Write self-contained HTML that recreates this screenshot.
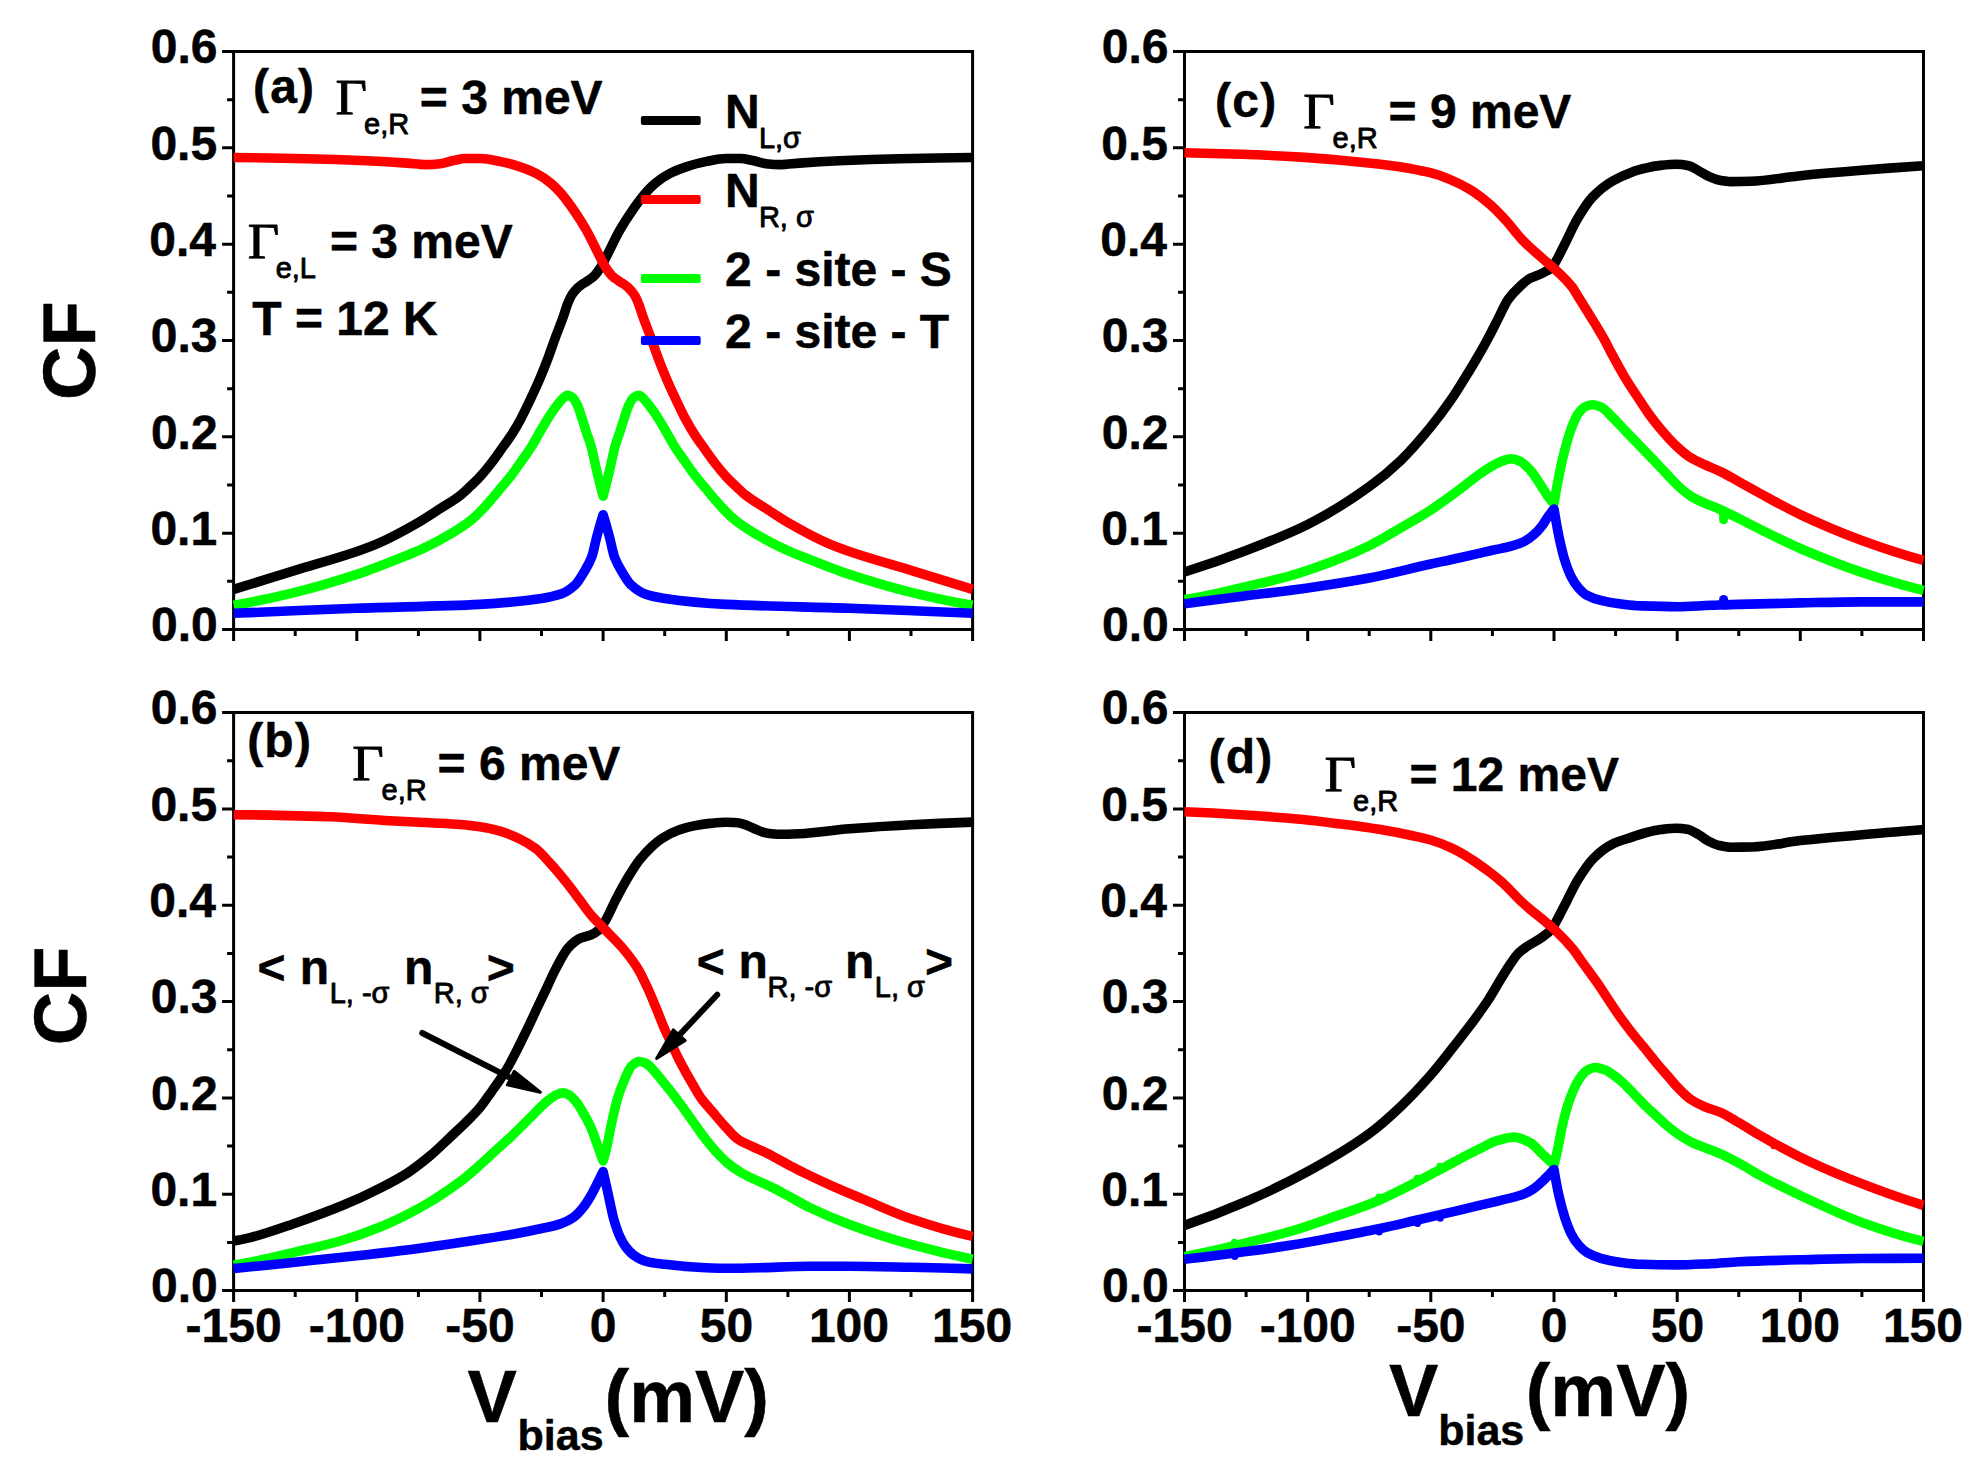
<!DOCTYPE html>
<html><head><meta charset="utf-8"><title>CF vs Vbias</title>
<style>
html,body{margin:0;padding:0;background:#fff}
svg{display:block}
text{fill:#000;stroke:#000;stroke-linejoin:round}
.b{font-family:"Liberation Sans",sans-serif;font-weight:bold;stroke-width:0.5px}
.r{font-family:"Liberation Sans",sans-serif;font-weight:normal;stroke-width:0.9px}
.s{font-family:"Liberation Serif",serif;font-weight:normal;stroke-width:0.9px}
.ax{stroke:#000;stroke-width:3;fill:none;stroke-linecap:butt}
.cv{fill:none;stroke-width:9.6;stroke-linejoin:round;stroke-linecap:butt}
</style></head><body>
<svg width="1985" height="1474" viewBox="0 0 1985 1474">
<rect width="1985" height="1474" fill="#fff"/>
<path class="ax" d="M222.1 51.5 H974.1M222.1 629.5 H974.1M233.6 50.0 V641.0M972.6 50.0 V641.0M227.1 581.3 H233.6M222.1 533.2 H233.6M227.1 485.0 H233.6M222.1 436.8 H233.6M227.1 388.7 H233.6M222.1 340.5 H233.6M227.1 292.3 H233.6M222.1 244.2 H233.6M227.1 196.0 H233.6M222.1 147.8 H233.6M227.1 99.7 H233.6M295.2 629.5 V636.0M356.8 629.5 V641.0M418.4 629.5 V636.0M479.9 629.5 V641.0M541.5 629.5 V636.0M603.1 629.5 V641.0M664.7 629.5 V636.0M726.3 629.5 V641.0M787.9 629.5 V636.0M849.4 629.5 V641.0M911.0 629.5 V636.0"/>
<text class="b" x="151.0" y="641.2" font-size="48">0.0</text>
<text class="b" x="150.4" y="544.9" font-size="48">0.1</text>
<text class="b" x="150.9" y="448.5" font-size="48">0.2</text>
<text class="b" x="150.8" y="352.2" font-size="48">0.3</text>
<text class="b" x="149.3" y="255.9" font-size="48">0.4</text>
<text class="b" x="150.4" y="159.5" font-size="48">0.5</text>
<text class="b" x="150.8" y="63.2" font-size="48">0.6</text>
<path class="cv" stroke="#000" d="M233.6 589.4C254.1 583.1 274.7 576.8 295.2 570.4C315.7 564.1 336.2 558.6 356.8 551.5C364.5 548.8 372.2 546.0 379.9 542.6C392.6 537.0 405.4 529.9 418.1 522.6C425.5 518.3 432.9 513.3 440.3 508.5C446.9 504.2 453.6 500.6 460.2 495.4C463.6 492.8 467.0 489.4 470.3 486.3C473.7 483.1 477.1 479.9 480.4 476.2C483.8 472.6 487.2 468.4 490.5 464.1C494.9 458.5 499.2 452.1 503.6 446.0C506.0 442.7 508.3 439.6 510.7 436.0C514.1 430.8 517.5 425.1 520.8 418.9C524.1 412.8 527.4 405.8 530.7 398.8C533.7 392.3 536.8 385.8 539.8 378.6C542.5 372.3 545.2 365.7 547.9 358.5C550.3 352.2 552.7 344.8 555.1 338.3C557.8 330.9 560.5 324.5 563.2 316.9C564.6 313.0 566.0 307.9 567.4 304.4C568.5 301.4 569.7 298.7 570.8 296.7C571.9 294.8 573.0 293.2 574.0 291.9C575.1 290.5 576.2 289.3 577.2 288.3C578.5 287.0 579.9 286.0 581.2 285.0C582.8 283.8 584.5 283.0 586.1 281.9C587.8 280.8 589.6 279.6 591.3 278.3C592.4 277.4 593.6 276.5 594.7 275.4C596.4 273.6 598.2 271.1 599.9 268.4C601.0 266.8 602.0 264.8 603.1 262.9C604.2 260.9 605.2 258.9 606.3 256.8C608.0 253.4 609.8 249.7 611.5 246.3C614.3 240.6 617.2 234.8 620.1 229.7C621.7 226.8 623.4 224.1 625.0 221.5C628.4 216.2 631.8 211.1 635.1 206.4C638.5 201.7 641.9 197.1 645.2 193.3C648.6 189.5 652.0 185.9 655.3 183.2C660.3 179.1 665.3 175.7 670.3 173.2C675.4 170.6 680.4 168.7 685.4 167.1C692.1 164.9 698.8 162.9 705.6 161.6C712.3 160.3 719.0 158.5 725.8 158.5C730.8 158.5 735.8 158.5 740.8 158.5C744.8 158.5 748.8 159.8 752.9 160.5C757.2 161.4 761.6 163.3 765.9 163.7C770.8 164.2 775.6 164.6 780.5 164.6C786.8 164.6 793.1 163.5 799.4 163.1C812.7 162.1 826.0 161.3 839.3 160.7C859.3 159.9 879.2 159.2 899.2 158.7C923.7 158.2 948.1 157.7 972.6 157.5"/>
<path class="cv" stroke="#f00" d="M233.6 157.5C258.1 157.7 282.5 158.2 307.0 158.7C327.0 159.2 346.9 159.9 366.9 160.7C380.2 161.3 393.5 162.1 406.8 163.1C413.1 163.5 419.4 164.6 425.7 164.6C430.6 164.6 435.4 164.2 440.3 163.7C444.6 163.3 449.0 161.4 453.3 160.5C457.4 159.8 461.4 158.5 465.4 158.5C470.4 158.5 475.4 158.5 480.4 158.5C487.2 158.5 493.9 160.3 500.6 161.6C507.4 162.9 514.1 164.9 520.8 167.1C525.8 168.7 530.8 170.6 535.9 173.2C540.9 175.7 545.9 179.1 550.9 183.2C554.2 185.9 557.6 189.5 561.0 193.3C564.3 197.1 567.7 201.7 571.1 206.4C574.4 211.1 577.8 216.2 581.2 221.5C582.8 224.1 584.5 226.8 586.1 229.7C589.0 234.8 591.9 240.6 594.7 246.3C596.4 249.7 598.2 253.4 599.9 256.8C601.0 258.9 602.0 260.9 603.1 262.9C604.2 264.8 605.2 266.8 606.3 268.4C608.0 271.1 609.8 273.6 611.5 275.4C612.6 276.5 613.8 277.4 614.9 278.3C616.6 279.6 618.4 280.8 620.1 281.9C621.7 283.0 623.4 283.8 625.0 285.0C626.3 286.0 627.7 287.0 629.0 288.3C630.0 289.3 631.1 290.5 632.2 291.9C633.2 293.2 634.3 294.8 635.4 296.7C636.5 298.7 637.7 301.4 638.8 304.4C640.2 307.9 641.6 313.0 643.0 316.9C645.7 324.5 648.4 330.9 651.1 338.3C653.5 344.8 655.9 352.2 658.3 358.5C661.0 365.7 663.7 372.3 666.4 378.6C669.4 385.8 672.5 392.3 675.5 398.8C678.8 405.8 682.1 412.8 685.4 418.9C688.7 425.1 692.1 430.8 695.5 436.0C697.9 439.6 700.2 442.7 702.6 446.0C707.0 452.1 711.3 458.5 715.7 464.1C719.0 468.4 722.4 472.6 725.8 476.2C729.1 479.9 732.5 483.1 735.9 486.3C739.2 489.4 742.6 492.8 746.0 495.4C752.6 500.6 759.3 504.2 765.9 508.5C773.3 513.3 780.7 518.3 788.1 522.6C800.8 529.9 813.6 537.0 826.3 542.6C834.0 546.0 841.7 548.8 849.4 551.5C870.0 558.6 890.5 564.1 911.0 570.4C931.5 576.8 952.1 583.1 972.6 589.4"/>
<path class="cv" stroke="#0f0" d="M233.6 605.3C254.1 601.8 274.7 597.3 295.2 592.3C315.7 587.3 336.2 581.2 356.8 574.4C371.5 569.5 386.2 563.6 400.9 557.7C407.3 555.2 413.7 552.7 420.1 549.8C426.8 546.8 433.5 543.4 440.3 539.7C447.7 535.7 455.1 531.3 462.4 526.4C465.1 524.7 467.7 522.9 470.3 520.8C473.7 518.1 477.1 514.9 480.4 511.5C483.8 508.1 487.2 504.3 490.5 500.4C493.9 496.6 497.3 492.3 500.6 488.3C504.0 484.2 507.4 480.6 510.7 476.2C514.1 471.9 517.5 466.9 520.8 462.1C524.5 456.8 528.2 451.9 531.9 446.0C534.9 441.1 538.0 435.1 541.0 430.0C544.3 424.4 547.6 418.8 550.9 413.9C553.6 409.9 556.3 406.1 559.0 402.8C560.7 400.8 562.5 398.5 564.2 397.2C565.3 396.4 566.5 395.2 567.6 395.2C569.1 395.2 570.6 396.2 572.1 397.2C573.8 398.4 575.5 401.5 577.2 404.9C578.9 408.0 580.5 414.0 582.2 418.9C583.6 423.1 585.0 427.8 586.3 432.0C587.9 436.8 589.5 440.5 591.0 446.0C593.0 452.8 594.9 463.2 596.8 471.2C598.9 479.9 601.0 488.3 603.1 496.2L603.1 496.2C605.2 488.3 607.3 479.9 609.4 471.2C611.3 463.2 613.2 452.8 615.2 446.0C616.7 440.5 618.3 436.8 619.9 432.0C621.2 427.8 622.6 423.1 624.0 418.9C625.7 414.0 627.3 408.0 629.0 404.9C630.7 401.5 632.4 398.4 634.1 397.2C635.6 396.2 637.1 395.2 638.6 395.2C639.7 395.2 640.9 396.4 642.0 397.2C643.7 398.5 645.5 400.8 647.2 402.8C649.9 406.1 652.6 409.9 655.3 413.9C658.6 418.8 661.9 424.4 665.2 430.0C668.2 435.1 671.3 441.1 674.3 446.0C678.0 451.9 681.7 456.8 685.4 462.1C688.7 466.9 692.1 471.9 695.5 476.2C698.8 480.6 702.2 484.2 705.6 488.3C708.9 492.3 712.3 496.6 715.7 500.4C719.0 504.3 722.4 508.1 725.8 511.5C729.1 514.9 732.5 518.1 735.9 520.8C738.5 522.9 741.1 524.7 743.8 526.4C751.1 531.3 758.5 535.7 765.9 539.7C772.7 543.4 779.4 546.8 786.1 549.8C792.5 552.7 798.9 555.2 805.3 557.7C820.0 563.6 834.7 569.5 849.4 574.4C870.0 581.2 890.5 587.3 911.0 592.3C931.5 597.3 952.1 601.8 972.6 605.3"/>
<path class="cv" stroke="#00f" d="M233.6 613.3C274.7 611.5 315.7 609.8 356.8 608.3C397.8 606.8 438.9 606.5 479.9 604.4C500.5 603.3 521.0 601.4 541.5 598.4C548.1 597.4 554.7 596.1 561.2 593.9C565.9 592.2 570.6 589.0 575.3 584.7C578.2 582.0 581.2 576.9 584.1 571.9C586.7 567.6 589.2 563.7 591.8 556.8C593.5 552.2 595.1 543.0 596.8 536.7C598.9 528.9 601.0 521.5 603.1 514.7L603.1 514.7C605.2 521.5 607.3 528.9 609.4 536.7C611.1 543.0 612.7 552.2 614.4 556.8C617.0 563.7 619.5 567.6 622.1 571.9C625.0 576.9 628.0 582.0 630.9 584.7C635.6 589.0 640.3 592.2 645.0 593.9C651.5 596.1 658.1 597.4 664.7 598.4C685.2 601.4 705.7 603.3 726.3 604.4C767.3 606.5 808.4 606.8 849.4 608.3C890.5 609.8 931.5 611.5 972.6 613.3"/>
<path class="ax" d="M222.1 712.6 H974.1M222.1 1290.6 H974.1M233.6 711.1 V1302.1M972.6 711.1 V1302.1M227.1 1242.4 H233.6M222.1 1194.3 H233.6M227.1 1146.1 H233.6M222.1 1097.9 H233.6M227.1 1049.8 H233.6M222.1 1001.6 H233.6M227.1 953.4 H233.6M222.1 905.3 H233.6M227.1 857.1 H233.6M222.1 808.9 H233.6M227.1 760.8 H233.6M295.2 1290.6 V1297.1M356.8 1290.6 V1302.1M418.4 1290.6 V1297.1M479.9 1290.6 V1302.1M541.5 1290.6 V1297.1M603.1 1290.6 V1302.1M664.7 1290.6 V1297.1M726.3 1290.6 V1302.1M787.9 1290.6 V1297.1M849.4 1290.6 V1302.1M911.0 1290.6 V1297.1"/>
<text class="b" x="151.0" y="1302.3" font-size="48">0.0</text>
<text class="b" x="150.4" y="1206.0" font-size="48">0.1</text>
<text class="b" x="150.9" y="1109.6" font-size="48">0.2</text>
<text class="b" x="150.8" y="1013.3" font-size="48">0.3</text>
<text class="b" x="149.3" y="917.0" font-size="48">0.4</text>
<text class="b" x="150.4" y="820.6" font-size="48">0.5</text>
<text class="b" x="150.8" y="724.3" font-size="48">0.6</text>
<text class="b" x="185.6" y="1342.0" font-size="48">-150</text>
<text class="b" x="308.8" y="1342.0" font-size="48">-100</text>
<text class="b" x="445.3" y="1342.0" font-size="48">-50</text>
<text class="b" x="589.8" y="1342.0" font-size="48">0</text>
<text class="b" x="699.8" y="1342.0" font-size="48">50</text>
<text class="b" x="808.9" y="1342.0" font-size="48">100</text>
<text class="b" x="932.0" y="1342.0" font-size="48">150</text>
<path class="cv" stroke="#000" d="M233.6 1241.0C239.1 1240.0 244.6 1238.9 250.1 1237.6C265.1 1234.0 280.2 1228.3 295.2 1223.2C310.7 1217.8 326.2 1212.2 341.7 1205.8C355.0 1200.4 368.2 1194.3 381.4 1187.5C390.0 1183.1 398.6 1178.6 407.3 1173.1C415.1 1168.0 422.9 1161.8 430.7 1155.3C436.9 1150.0 443.1 1143.8 449.4 1137.9C454.6 1133.0 459.9 1128.2 465.2 1123.0C470.1 1118.1 475.0 1113.4 479.9 1107.6C484.0 1102.7 488.1 1096.5 492.2 1090.7C496.9 1084.1 501.6 1077.7 506.3 1070.0C509.8 1064.1 513.4 1057.1 516.9 1050.2C520.4 1043.4 523.9 1035.9 527.5 1028.6C530.6 1022.1 533.7 1015.4 536.8 1008.8C540.0 1002.1 543.2 995.4 546.4 988.6C549.6 981.8 552.8 974.2 556.1 968.2C560.1 960.6 564.1 952.3 568.1 947.9C572.3 943.4 576.5 939.8 580.7 938.0C584.1 936.6 587.4 936.4 590.8 935.0C593.5 933.9 596.2 932.3 598.9 929.9C601.0 928.0 603.2 924.4 605.3 920.9C608.7 915.3 612.1 906.9 615.4 900.4C619.1 893.3 622.8 886.2 626.5 880.0C631.1 872.3 635.7 864.5 640.3 859.0C647.4 850.6 654.4 843.4 661.5 838.8C667.6 834.8 673.8 831.8 680.0 829.6C684.6 828.1 689.2 826.8 693.8 825.9C699.1 824.8 704.4 823.9 709.8 823.4C715.1 822.9 720.4 822.3 725.8 822.3C729.7 822.3 733.7 822.5 737.6 822.7C741.0 822.9 744.3 824.5 747.7 825.7C751.0 826.9 754.3 828.9 757.6 830.1C760.9 831.4 764.3 832.9 767.7 833.3C771.6 833.8 775.5 834.3 779.5 834.3C786.1 834.3 792.8 834.0 799.4 833.7C816.1 833.0 832.8 830.0 849.4 828.7C870.0 827.1 890.5 825.8 911.0 824.7C931.5 823.7 952.1 822.8 972.6 822.1"/>
<path class="cv" stroke="#f00" d="M233.6 814.7C265.6 814.7 297.6 815.7 329.7 816.7C349.6 817.4 369.6 819.6 389.5 820.7C402.8 821.4 416.1 822.0 429.4 822.7C439.7 823.3 450.0 823.7 460.2 824.5C466.8 825.1 473.4 825.7 479.9 826.7C486.7 827.6 493.4 829.3 500.1 831.2C506.9 833.1 513.6 836.0 520.3 839.3C525.3 841.7 530.3 844.6 535.4 848.3C540.4 852.1 545.4 858.0 550.4 863.5C555.5 869.0 560.6 875.2 565.7 881.6C570.3 887.3 574.9 893.6 579.5 899.7C583.6 905.1 587.7 911.1 591.8 915.9C595.0 919.6 598.2 922.5 601.4 925.9C608.4 933.3 615.5 939.7 622.6 948.0C627.6 954.0 632.6 960.0 637.6 968.2C641.0 973.6 644.3 981.0 647.7 988.3C650.6 994.5 653.4 1001.5 656.3 1008.4C659.0 1015.0 661.7 1022.3 664.4 1028.6C666.9 1034.2 669.4 1039.2 671.8 1044.5C674.3 1049.7 676.8 1055.2 679.2 1060.0C684.1 1069.5 688.9 1078.0 693.8 1086.2C696.4 1090.6 699.0 1095.3 701.6 1098.9C705.4 1104.1 709.2 1107.9 713.0 1112.4C717.4 1117.6 721.8 1123.1 726.3 1127.8C730.4 1132.1 734.5 1137.2 738.6 1139.8C743.6 1143.1 748.6 1144.7 753.6 1147.1C757.3 1148.8 761.0 1150.3 764.7 1152.1C768.3 1153.8 771.9 1155.7 775.5 1157.7C780.7 1160.4 785.9 1163.6 791.1 1166.3C797.2 1169.6 803.4 1172.5 809.5 1175.5C816.4 1178.8 823.3 1182.0 830.2 1185.1C841.1 1190.0 852.1 1194.5 863.0 1199.1C879.0 1205.8 895.0 1213.4 911.0 1218.8C931.5 1225.8 952.1 1232.0 972.6 1236.4"/>
<path class="cv" stroke="#0f0" d="M233.6 1265.1C239.1 1264.1 244.6 1263.2 250.1 1262.1C265.1 1259.1 280.2 1255.6 295.2 1252.1C310.7 1248.4 326.2 1245.0 341.7 1240.5C355.0 1236.6 368.2 1231.9 381.4 1226.5C390.0 1223.0 398.6 1218.9 407.3 1214.5C415.1 1210.5 422.9 1206.2 430.7 1201.5C437.1 1197.6 443.5 1193.3 449.9 1189.0C453.1 1186.8 456.3 1184.6 459.5 1182.2C465.1 1178.0 470.7 1173.1 476.2 1168.3C484.9 1160.7 493.6 1152.3 502.3 1144.5C504.9 1142.2 507.4 1140.0 510.0 1137.6C516.2 1131.8 522.5 1125.3 528.7 1119.2C535.2 1112.9 541.7 1105.4 548.2 1100.3C550.9 1098.2 553.6 1096.0 556.3 1094.9C558.4 1094.0 560.6 1092.9 562.7 1092.9C564.8 1092.9 567.0 1094.0 569.1 1095.0C571.8 1096.4 574.5 1099.8 577.2 1103.2C578.5 1104.8 579.7 1107.0 580.9 1109.0C584.1 1114.3 587.3 1119.4 590.4 1126.4C592.8 1131.5 595.1 1138.7 597.4 1145.1C599.3 1150.3 601.2 1155.6 603.1 1160.9L603.1 1160.9C604.5 1156.4 605.8 1151.1 607.2 1145.1C608.5 1139.4 609.8 1131.6 611.1 1125.5C613.2 1116.0 615.2 1106.1 617.3 1099.3C619.7 1091.2 622.1 1085.0 624.5 1079.6C627.0 1074.1 629.5 1067.8 631.9 1065.7C634.4 1063.5 636.8 1061.5 639.3 1061.5C641.5 1061.5 643.7 1062.5 646.0 1063.4C649.2 1064.9 652.5 1069.3 655.8 1072.9C658.7 1076.0 661.6 1079.9 664.4 1083.5C667.1 1086.8 669.9 1090.1 672.6 1093.6C674.9 1096.7 677.3 1100.0 679.7 1103.2C683.1 1107.8 686.4 1112.5 689.8 1117.2C693.8 1122.7 697.7 1128.5 701.6 1133.8C704.4 1137.5 707.2 1141.1 710.0 1144.5C712.6 1147.6 715.1 1150.6 717.6 1153.3C720.5 1156.4 723.4 1159.5 726.3 1162.0C730.7 1165.8 735.1 1168.9 739.6 1171.6C744.2 1174.5 748.9 1176.8 753.6 1179.0C758.9 1181.6 764.3 1183.5 769.6 1186.1C775.7 1189.0 781.8 1192.5 787.9 1195.7C795.1 1199.6 802.3 1204.0 809.5 1207.5C822.8 1213.9 836.1 1219.5 849.4 1224.4C870.0 1232.0 890.5 1238.7 911.0 1244.4C931.5 1250.1 952.1 1255.1 972.6 1259.3"/>
<path class="cv" stroke="#00f" d="M233.6 1268.6C254.1 1266.5 274.7 1264.3 295.2 1262.2C315.7 1260.0 336.2 1258.0 356.8 1255.7C377.3 1253.4 397.8 1251.1 418.4 1248.4C438.9 1245.7 459.4 1242.7 479.9 1239.5C490.0 1238.0 500.0 1236.5 510.0 1234.7C520.5 1232.9 531.0 1230.8 541.5 1228.5C548.1 1227.0 554.7 1225.9 561.2 1223.6C565.2 1222.3 569.3 1220.2 573.3 1217.5C576.6 1215.2 579.9 1211.5 583.1 1207.5C585.8 1204.2 588.4 1200.0 591.0 1195.5C593.1 1192.0 595.1 1187.6 597.2 1183.5C599.2 1179.6 601.1 1175.6 603.1 1171.5L603.1 1171.5C604.7 1178.5 606.2 1185.4 607.8 1192.3C609.8 1201.5 611.9 1212.7 613.9 1219.8C615.9 1226.6 617.9 1232.4 619.9 1236.7C621.9 1241.1 624.0 1244.7 626.0 1247.3C628.6 1250.7 631.3 1253.6 633.9 1255.3C637.9 1258.1 641.9 1260.3 646.0 1261.3C652.2 1262.9 658.4 1263.5 664.7 1264.3C673.1 1265.3 681.4 1266.2 689.8 1266.7C702.0 1267.5 714.1 1268.3 726.3 1268.3C737.4 1268.3 748.4 1267.9 759.5 1267.7C776.2 1267.3 792.9 1266.3 809.5 1266.3C822.8 1266.3 836.1 1266.3 849.4 1266.3C870.0 1266.3 890.5 1266.9 911.0 1267.3C931.5 1267.7 952.1 1268.3 972.6 1268.9"/>
<path class="ax" d="M1173.0 51.5 H1925.0M1173.0 629.5 H1925.0M1184.5 50.0 V641.0M1923.5 50.0 V641.0M1178.0 581.3 H1184.5M1173.0 533.2 H1184.5M1178.0 485.0 H1184.5M1173.0 436.8 H1184.5M1178.0 388.7 H1184.5M1173.0 340.5 H1184.5M1178.0 292.3 H1184.5M1173.0 244.2 H1184.5M1178.0 196.0 H1184.5M1173.0 147.8 H1184.5M1178.0 99.7 H1184.5M1246.1 629.5 V636.0M1307.7 629.5 V641.0M1369.2 629.5 V636.0M1430.8 629.5 V641.0M1492.4 629.5 V636.0M1554.0 629.5 V641.0M1615.6 629.5 V636.0M1677.2 629.5 V641.0M1738.8 629.5 V636.0M1800.3 629.5 V641.0M1861.9 629.5 V636.0"/>
<text class="b" x="1102.0" y="641.2" font-size="48">0.0</text>
<text class="b" x="1101.3" y="544.9" font-size="48">0.1</text>
<text class="b" x="1101.8" y="448.5" font-size="48">0.2</text>
<text class="b" x="1101.7" y="352.2" font-size="48">0.3</text>
<text class="b" x="1100.2" y="255.9" font-size="48">0.4</text>
<text class="b" x="1101.3" y="159.5" font-size="48">0.5</text>
<text class="b" x="1101.7" y="63.2" font-size="48">0.6</text>
<path class="cv" stroke="#000" d="M1184.5 572.0C1205.0 565.5 1225.6 558.3 1246.1 550.4C1266.6 542.6 1287.1 534.8 1307.7 524.5C1328.2 514.2 1348.7 501.4 1369.2 486.6C1379.7 479.2 1390.1 470.7 1400.5 460.7C1410.6 451.1 1420.7 439.2 1430.8 426.8C1437.3 418.9 1443.8 410.2 1450.3 400.8C1455.0 394.0 1459.7 386.4 1464.3 378.9C1468.4 372.5 1472.4 365.9 1476.4 359.0C1480.2 352.5 1484.0 346.0 1487.7 339.0C1491.3 332.4 1494.8 325.2 1498.3 318.3C1501.6 312.0 1504.9 304.0 1508.2 299.4C1512.0 293.9 1515.9 290.1 1519.8 286.6C1523.4 283.2 1527.0 280.0 1530.6 278.1C1534.1 276.2 1537.7 275.4 1541.2 273.7C1544.8 272.0 1548.4 270.7 1552.0 267.4C1553.6 266.0 1555.1 262.6 1556.7 259.9C1560.2 253.8 1563.6 246.2 1567.1 239.3C1570.4 232.7 1573.8 225.0 1577.2 219.3C1582.2 210.8 1587.2 202.7 1592.2 197.4C1598.9 190.3 1605.6 185.0 1612.4 181.1C1618.6 177.4 1624.9 174.7 1631.1 172.4C1635.6 170.8 1640.1 169.3 1644.7 168.3C1650.0 167.0 1655.3 165.9 1660.7 165.4C1666.0 164.8 1671.3 164.3 1676.7 164.3C1680.7 164.3 1684.7 164.9 1688.7 165.7C1692.0 166.3 1695.3 168.9 1698.6 170.7C1702.0 172.4 1705.3 174.7 1708.7 176.3C1712.0 177.7 1715.3 179.3 1718.6 180.0C1722.6 180.8 1726.6 181.6 1730.6 181.6C1737.3 181.6 1743.9 181.5 1750.6 181.3C1767.2 180.8 1783.7 177.3 1800.3 175.7C1820.9 173.6 1841.4 171.9 1861.9 170.3C1882.4 168.6 1903.0 167.1 1923.5 165.7"/>
<path class="cv" stroke="#f00" d="M1184.5 152.7C1203.3 153.1 1222.1 153.6 1240.9 154.3C1260.9 155.0 1280.8 155.9 1300.8 157.1C1314.1 157.9 1327.4 159.1 1340.7 160.3C1354.0 161.4 1367.3 162.7 1380.6 164.3C1390.5 165.5 1400.5 166.9 1410.4 168.6C1417.0 169.8 1423.7 171.0 1430.3 172.7C1437.0 174.4 1443.6 176.9 1450.3 179.6C1456.9 182.4 1463.6 185.6 1470.2 189.6C1476.9 193.6 1483.5 198.9 1490.2 204.7C1495.3 209.1 1500.4 214.6 1505.5 220.1C1511.2 226.3 1517.0 234.4 1522.7 240.3C1530.1 247.9 1537.5 254.0 1544.9 260.5C1548.6 263.8 1552.3 266.7 1556.0 270.2C1561.5 275.4 1567.0 280.3 1572.5 287.5C1574.7 290.4 1576.9 294.6 1579.1 298.1C1584.4 306.5 1589.6 315.0 1594.9 323.6C1597.8 328.5 1600.8 333.3 1603.8 338.6C1606.8 344.0 1609.8 350.3 1612.9 355.9C1616.8 363.2 1620.8 370.5 1624.7 377.1C1628.7 383.8 1632.7 389.8 1636.8 395.9C1640.8 402.0 1644.8 408.3 1648.8 413.9C1652.8 419.4 1656.7 424.5 1660.7 429.1C1666.2 435.6 1671.7 441.9 1677.2 446.9C1681.7 451.1 1686.2 455.0 1690.7 457.7C1695.3 460.6 1699.9 462.5 1704.5 464.7C1709.8 467.2 1715.2 469.0 1720.5 471.6C1726.6 474.5 1732.7 478.3 1738.8 481.6C1746.0 485.6 1753.2 489.7 1760.4 493.6C1773.7 500.8 1787.0 508.3 1800.3 514.6C1820.9 524.3 1841.4 533.0 1861.9 540.5C1882.4 548.0 1903.0 554.8 1923.5 560.4"/>
<path class="cv" stroke="#0f0" d="M1184.5 599.6C1189.7 598.8 1194.8 598.0 1200.0 597.0C1215.4 594.2 1230.7 590.3 1246.1 586.6C1261.3 583.0 1276.5 579.7 1291.7 575.4C1305.2 571.5 1318.8 566.7 1332.3 561.6C1344.6 556.9 1356.9 551.7 1369.2 545.7C1379.5 540.7 1389.8 534.3 1400.0 528.4C1410.3 522.4 1420.6 516.7 1430.8 510.0C1440.7 503.6 1450.5 496.2 1460.4 488.9C1467.0 483.9 1473.7 478.2 1480.3 473.6C1485.7 470.0 1491.0 466.2 1496.4 463.6C1499.6 462.0 1502.9 460.4 1506.2 459.7C1508.0 459.2 1509.8 458.7 1511.6 458.7C1514.5 458.7 1517.4 460.1 1520.3 461.4C1523.7 463.0 1527.1 466.8 1530.6 470.5C1534.0 474.3 1537.5 480.3 1540.9 485.5C1543.3 489.0 1545.7 493.3 1548.1 496.6C1550.1 499.2 1552.0 501.7 1554.0 503.8L1554.0 503.8C1555.3 495.9 1556.5 488.4 1557.8 481.7C1559.7 472.1 1561.5 462.9 1563.4 455.5C1565.9 445.3 1568.5 436.1 1571.0 429.3C1573.4 423.0 1575.8 416.8 1578.1 413.6C1580.8 410.1 1583.4 407.1 1586.0 406.2C1588.3 405.4 1590.6 404.7 1592.9 404.7C1595.5 404.7 1598.2 405.8 1600.8 406.9C1604.8 408.5 1608.9 413.9 1612.9 417.8C1616.8 421.6 1620.8 426.0 1624.7 430.1C1628.7 434.3 1632.7 438.4 1636.8 442.6C1640.8 446.8 1644.8 451.0 1648.8 455.1C1652.5 459.0 1656.2 462.8 1659.9 466.7C1665.7 472.7 1671.4 479.7 1677.2 485.0C1681.7 489.2 1686.2 493.2 1690.7 496.1C1695.3 499.0 1699.9 501.0 1704.5 503.1C1709.8 505.5 1715.2 507.2 1720.5 509.6C1726.6 512.3 1732.7 515.5 1738.8 518.5C1746.0 522.1 1753.2 525.9 1760.4 529.5C1773.7 536.1 1787.0 542.8 1800.3 548.5C1820.9 557.3 1841.4 565.5 1861.9 572.4C1882.4 579.2 1903.0 585.4 1923.5 590.4"/>
<path class="cv" stroke="#00f" d="M1184.5 603.7C1205.0 601.0 1225.6 598.4 1246.1 595.8C1266.6 593.2 1287.1 590.8 1307.7 587.9C1328.2 585.0 1348.7 581.8 1369.2 578.0C1389.8 574.1 1410.3 568.5 1430.8 564.0C1440.5 561.9 1450.2 559.9 1459.9 557.7C1470.7 555.3 1481.6 552.8 1492.4 550.3C1499.0 548.8 1505.6 547.8 1512.1 545.9C1516.1 544.7 1520.2 543.4 1524.2 541.5C1527.5 539.8 1530.8 537.4 1534.0 534.5C1536.8 532.2 1539.5 529.1 1542.2 525.6C1544.1 523.0 1546.1 519.2 1548.1 516.5C1550.1 513.8 1552.0 511.3 1554.0 509.1L1554.0 509.1C1555.6 519.3 1557.3 528.7 1558.9 536.4C1560.9 545.7 1562.9 554.2 1564.8 560.4C1566.9 566.9 1568.9 572.4 1571.0 576.4C1573.6 581.5 1576.3 585.4 1578.9 588.4C1581.5 591.3 1584.1 593.9 1586.8 595.3C1591.4 597.8 1596.1 599.2 1600.8 600.3C1607.5 602.0 1614.1 603.1 1620.8 604.0C1627.4 604.8 1634.1 605.7 1640.7 605.9C1652.9 606.3 1665.0 606.7 1677.2 606.7C1688.3 606.7 1699.5 605.7 1710.7 605.3C1720.0 605.0 1729.4 604.6 1738.8 604.4C1759.3 603.8 1779.8 603.3 1800.3 602.9C1820.9 602.5 1841.4 601.9 1861.9 601.9C1882.4 601.9 1903.0 601.9 1923.5 601.9"/>
<path class="ax" d="M1173.0 712.6 H1925.0M1173.0 1290.6 H1925.0M1184.5 711.1 V1302.1M1923.5 711.1 V1302.1M1178.0 1242.4 H1184.5M1173.0 1194.3 H1184.5M1178.0 1146.1 H1184.5M1173.0 1097.9 H1184.5M1178.0 1049.8 H1184.5M1173.0 1001.6 H1184.5M1178.0 953.4 H1184.5M1173.0 905.3 H1184.5M1178.0 857.1 H1184.5M1173.0 808.9 H1184.5M1178.0 760.8 H1184.5M1246.1 1290.6 V1297.1M1307.7 1290.6 V1302.1M1369.2 1290.6 V1297.1M1430.8 1290.6 V1302.1M1492.4 1290.6 V1297.1M1554.0 1290.6 V1302.1M1615.6 1290.6 V1297.1M1677.2 1290.6 V1302.1M1738.8 1290.6 V1297.1M1800.3 1290.6 V1302.1M1861.9 1290.6 V1297.1"/>
<text class="b" x="1102.0" y="1302.3" font-size="48">0.0</text>
<text class="b" x="1101.3" y="1206.0" font-size="48">0.1</text>
<text class="b" x="1101.8" y="1109.6" font-size="48">0.2</text>
<text class="b" x="1101.7" y="1013.3" font-size="48">0.3</text>
<text class="b" x="1100.2" y="917.0" font-size="48">0.4</text>
<text class="b" x="1101.3" y="820.6" font-size="48">0.5</text>
<text class="b" x="1101.7" y="724.3" font-size="48">0.6</text>
<text class="b" x="1136.5" y="1342.0" font-size="48">-150</text>
<text class="b" x="1259.7" y="1342.0" font-size="48">-100</text>
<text class="b" x="1396.2" y="1342.0" font-size="48">-50</text>
<text class="b" x="1540.7" y="1342.0" font-size="48">0</text>
<text class="b" x="1650.7" y="1342.0" font-size="48">50</text>
<text class="b" x="1759.8" y="1342.0" font-size="48">100</text>
<text class="b" x="1882.9" y="1342.0" font-size="48">150</text>
<path class="cv" stroke="#000" d="M1184.5 1225.4C1205.0 1218.4 1225.6 1210.4 1246.1 1201.5C1266.6 1192.6 1287.1 1182.7 1307.7 1171.5C1328.2 1160.4 1348.7 1148.7 1369.2 1133.7C1379.7 1126.0 1390.1 1116.6 1400.5 1106.7C1410.6 1097.1 1420.7 1086.3 1430.8 1074.8C1437.3 1067.4 1443.8 1059.0 1450.3 1050.8C1455.0 1045.0 1459.7 1039.0 1464.3 1032.9C1468.4 1027.7 1472.4 1022.5 1476.4 1016.9C1480.3 1011.5 1484.3 1006.0 1488.2 1000.0C1491.6 994.8 1495.0 988.8 1498.3 983.3C1501.6 977.9 1504.9 972.2 1508.2 967.3C1511.5 962.3 1514.9 956.7 1518.3 953.3C1521.0 950.6 1523.7 948.8 1526.4 946.9C1531.3 943.4 1536.3 941.3 1541.2 937.8C1544.6 935.4 1548.1 933.4 1551.5 929.4C1553.2 927.5 1554.8 923.9 1556.5 920.9C1560.0 914.5 1563.5 907.2 1567.1 900.4C1570.6 893.7 1574.1 885.9 1577.6 880.2C1583.0 871.6 1588.3 863.3 1593.7 858.1C1599.9 852.0 1606.1 847.1 1612.4 844.1C1618.6 841.1 1624.9 839.5 1631.1 837.4C1635.6 835.8 1640.1 834.2 1644.7 833.0C1650.0 831.7 1655.3 830.3 1660.7 829.6C1666.0 829.0 1671.3 828.3 1676.7 828.3C1680.7 828.3 1684.7 828.9 1688.7 829.6C1692.0 830.3 1695.3 832.8 1698.6 834.7C1702.0 836.6 1705.3 839.5 1708.7 841.2C1712.0 842.9 1715.3 844.5 1718.6 845.3C1722.6 846.2 1726.6 847.2 1730.6 847.2C1737.8 847.2 1745.1 847.1 1752.3 847.0C1768.3 846.7 1784.3 842.4 1800.3 840.6C1820.9 838.3 1841.4 836.5 1861.9 834.7C1882.4 832.8 1903.0 831.2 1923.5 829.6"/>
<path class="cv" stroke="#f00" d="M1184.5 811.7C1203.3 812.5 1222.1 813.5 1240.9 814.7C1260.9 816.0 1280.8 817.4 1300.8 819.3C1314.1 820.6 1327.4 822.4 1340.7 824.1C1354.0 825.8 1367.3 827.5 1380.6 829.6C1390.5 831.3 1400.5 833.2 1410.4 835.3C1417.2 836.8 1424.0 838.1 1430.8 840.0C1437.5 842.0 1444.1 844.6 1450.8 847.7C1457.4 850.7 1464.1 854.7 1470.7 858.8C1477.2 862.9 1483.7 867.6 1490.2 872.5C1494.3 875.6 1498.4 879.0 1502.5 882.6C1509.4 888.8 1516.3 897.1 1523.2 903.3C1530.9 910.4 1538.6 916.0 1546.4 922.6C1550.1 925.8 1553.8 928.9 1557.4 932.4C1562.8 937.6 1568.1 943.1 1573.5 949.8C1575.9 952.8 1578.4 956.7 1580.9 960.2C1586.2 967.6 1591.5 974.6 1596.9 982.3C1600.7 987.9 1604.6 993.9 1608.4 999.7C1612.5 1005.8 1616.7 1012.2 1620.8 1018.0C1624.8 1023.6 1628.8 1028.8 1632.8 1033.9C1636.8 1038.9 1640.7 1043.5 1644.7 1048.3C1648.7 1053.3 1652.7 1058.4 1656.7 1063.3C1660.7 1068.1 1664.8 1072.6 1668.8 1077.2C1671.6 1080.4 1674.4 1084.0 1677.2 1086.9C1681.7 1091.5 1686.2 1096.3 1690.7 1099.4C1695.3 1102.5 1699.9 1104.7 1704.5 1106.7C1709.8 1109.0 1715.2 1110.1 1720.5 1112.4C1726.6 1115.0 1732.7 1119.2 1738.8 1122.7C1746.0 1126.9 1753.2 1131.6 1760.4 1135.7C1773.7 1143.3 1787.0 1150.7 1800.3 1157.2C1816.8 1165.2 1833.2 1172.3 1849.6 1178.9C1874.2 1188.7 1898.9 1197.8 1923.5 1205.4"/>
<path class="cv" stroke="#0f0" d="M1184.5 1256.6C1189.7 1255.6 1194.8 1254.6 1200.0 1253.5C1215.4 1250.3 1230.7 1246.7 1246.1 1242.9C1261.3 1239.2 1276.5 1235.4 1291.7 1231.0C1305.2 1227.0 1318.8 1222.1 1332.3 1217.4C1347.7 1212.0 1363.2 1207.0 1378.6 1200.5C1385.8 1197.5 1392.9 1193.9 1400.0 1190.4C1413.1 1184.0 1426.2 1176.8 1439.2 1170.0C1452.3 1163.1 1465.5 1155.7 1478.6 1149.3C1485.2 1146.1 1491.8 1142.0 1498.3 1140.2C1503.6 1138.8 1508.8 1137.1 1514.1 1137.1C1519.8 1137.1 1525.4 1140.2 1531.1 1143.2C1534.5 1145.1 1538.0 1149.7 1541.4 1153.0C1543.7 1155.1 1545.9 1157.4 1548.1 1159.4C1550.1 1161.2 1552.0 1162.9 1554.0 1164.6L1554.0 1164.6C1555.1 1160.7 1556.1 1156.4 1557.2 1151.7C1558.9 1144.0 1560.7 1132.8 1562.4 1125.5C1564.8 1115.1 1567.3 1105.9 1569.8 1099.3C1572.8 1091.1 1575.8 1084.2 1578.9 1079.6C1581.5 1075.7 1584.1 1071.9 1586.8 1070.5C1589.6 1068.9 1592.3 1067.5 1595.1 1067.5C1598.3 1067.5 1601.5 1068.7 1604.7 1069.8C1607.9 1070.9 1611.1 1073.5 1614.4 1075.8C1617.1 1077.7 1619.9 1080.0 1622.7 1082.5C1625.4 1084.9 1628.1 1087.9 1630.9 1090.7C1633.9 1093.8 1636.9 1097.2 1640.0 1100.3C1641.5 1102.0 1643.1 1103.6 1644.7 1105.2C1648.7 1109.1 1652.7 1112.5 1656.7 1116.2C1659.8 1119.1 1663.0 1122.3 1666.1 1124.9C1669.8 1128.0 1673.5 1131.0 1677.2 1133.6C1681.7 1136.7 1686.2 1139.5 1690.7 1141.8C1695.3 1144.0 1699.9 1145.7 1704.5 1147.5C1709.8 1149.7 1715.2 1151.5 1720.5 1153.8C1726.6 1156.5 1732.7 1159.7 1738.8 1163.0C1746.0 1166.8 1753.2 1171.7 1760.4 1175.6C1773.7 1182.8 1787.0 1189.3 1800.3 1195.5C1820.9 1205.1 1841.4 1215.0 1861.9 1222.4C1882.4 1229.8 1903.0 1236.4 1923.5 1241.4"/>
<path class="cv" stroke="#00f" d="M1184.5 1259.3C1189.7 1258.7 1194.8 1258.0 1200.0 1257.4C1215.4 1255.5 1230.7 1253.6 1246.1 1251.6C1261.3 1249.6 1276.5 1247.5 1291.7 1245.1C1305.2 1243.0 1318.8 1240.3 1332.3 1237.8C1347.7 1234.9 1363.2 1232.0 1378.6 1228.8C1391.9 1226.0 1405.2 1222.8 1418.5 1219.8C1432.3 1216.6 1446.1 1213.3 1459.9 1210.1C1470.7 1207.5 1481.6 1204.9 1492.4 1202.3C1500.9 1200.2 1509.3 1198.5 1517.8 1196.0C1519.9 1195.4 1522.1 1194.7 1524.2 1193.8C1527.5 1192.4 1530.8 1190.7 1534.0 1188.5C1536.8 1186.7 1539.5 1184.1 1542.2 1181.6C1544.1 1179.7 1546.1 1177.6 1548.1 1175.6C1550.1 1173.6 1552.0 1171.5 1554.0 1169.5L1554.0 1169.5C1555.6 1179.3 1557.3 1188.3 1558.9 1195.5C1560.9 1204.2 1562.9 1211.5 1564.8 1217.5C1566.9 1223.7 1568.9 1229.4 1571.0 1233.4C1573.6 1238.5 1576.3 1242.5 1578.9 1245.4C1581.5 1248.4 1584.1 1250.8 1586.8 1252.4C1591.4 1255.1 1596.1 1257.0 1600.8 1258.3C1607.5 1260.2 1614.1 1261.5 1620.8 1262.4C1627.4 1263.2 1634.1 1264.1 1640.7 1264.3C1652.9 1264.7 1665.0 1264.9 1677.2 1264.9C1688.3 1264.9 1699.5 1264.2 1710.7 1263.7C1720.0 1263.3 1729.4 1262.1 1738.8 1261.7C1759.3 1260.8 1779.8 1260.3 1800.3 1259.8C1820.9 1259.3 1841.4 1258.6 1861.9 1258.5C1882.4 1258.4 1903.0 1258.3 1923.5 1258.3"/>
<path d="M1723.6 511.0V519.8" stroke="#0f0" stroke-width="9" stroke-linecap="round" fill="none"/>
<path d="M1723.6 604.8V599.5" stroke="#00f" stroke-width="9" stroke-linecap="round" fill="none"/>
<circle cx="1234.4" cy="1242.3" r="3.5" fill="#0f0"/>
<circle cx="1234.8" cy="1256.5" r="3.5" fill="#00f"/>
<circle cx="1378.8" cy="1197.0" r="3.5" fill="#0f0"/>
<circle cx="1379.2" cy="1232.1" r="3.5" fill="#00f"/>
<circle cx="1417.1" cy="1178.3" r="3.5" fill="#0f0"/>
<circle cx="1417.5" cy="1223.5" r="3.5" fill="#00f"/>
<circle cx="1439.8" cy="1166.3" r="3.5" fill="#0f0"/>
<circle cx="1440.2" cy="1218.2" r="3.5" fill="#00f"/>
<circle cx="1773.6" cy="1146.1" r="3.2" fill="#f00"/>
<rect x="640.9" y="115.9" width="59.8" height="9" rx="2" fill="#000"/>
<rect x="640.9" y="195.1" width="59.8" height="9" rx="2" fill="#f00"/>
<rect x="640.9" y="273.9" width="59.8" height="9" rx="2" fill="#0f0"/>
<rect x="640.9" y="336.1" width="59.8" height="9" rx="2" fill="#00f"/>
<text class="b" x="725.1" y="127.6" font-size="48">N</text>
<text class="r" x="758.9" y="147.9" font-size="29">L,σ</text>
<text class="b" x="725.1" y="206.8" font-size="48">N</text>
<text class="r" x="758.9" y="226.9" font-size="29">R, σ</text>
<text class="b" x="725.1" y="286.4" font-size="48">2 - site - S</text>
<text class="b" x="725.1" y="348.2" font-size="48">2 - site - T</text>
<text class="b" x="253.0" y="102.9" font-size="48" letter-spacing="1.2">(a)</text>
<text class="s" transform="translate(335.5 114.1) scale(1.09 1)" font-size="50">Γ</text>
<text class="r" x="364.0" y="133.8" font-size="29">e,R</text>
<text class="b" x="419.8" y="114.1" font-size="48">= 3 meV</text>
<text class="s" transform="translate(247.8 258.0) scale(1.09 1)" font-size="50">Γ</text>
<text class="r" x="275.7" y="278.0" font-size="29">e,L</text>
<text class="b" x="329.9" y="258.0" font-size="48">= 3 meV</text>
<text class="b" x="252.3" y="335.0" font-size="48">T = 12 K</text>
<text class="b" x="247.2" y="756.9" font-size="48" letter-spacing="1.2">(b)</text>
<text class="s" transform="translate(352.2 780.2) scale(1.09 1)" font-size="50">Γ</text>
<text class="r" x="381.5" y="799.8" font-size="29">e,R</text>
<text class="b" x="437.6" y="779.8" font-size="48">= 6 meV</text>
<text class="b" x="257.6" y="983.9" font-size="48">&lt;</text>
<text class="b" x="299.8" y="983.9" font-size="48">n</text>
<text class="r" x="329.7" y="1002.9" font-size="29">L, -σ</text>
<text class="b" x="403.9" y="983.9" font-size="48">n</text>
<text class="r" x="433.8" y="1002.9" font-size="29">R, σ</text>
<text class="b" x="486.7" y="983.9" font-size="48">&gt;</text>
<text class="b" x="696.8" y="978.0" font-size="48">&lt;</text>
<text class="b" x="738.6" y="978.0" font-size="48">n</text>
<text class="r" x="767.5" y="997.1" font-size="29">R, -σ</text>
<text class="b" x="845.0" y="978.0" font-size="48">n</text>
<text class="r" x="874.8" y="997.1" font-size="29">L, σ</text>
<text class="b" x="925.1" y="978.0" font-size="48">&gt;</text>
<path d="M422.2 1033L511.5 1078.5" stroke="#000" stroke-width="6" stroke-linecap="round" fill="none"/>
<path d="M514.3 1071.3L507.4 1084.9L540.3 1092.2Z" fill="#000" stroke="#000" stroke-width="3" stroke-linejoin="round"/>
<path d="M717.2 994.8L680 1034.4" stroke="#000" stroke-width="6" stroke-linecap="round" fill="none"/>
<path d="M673.3 1029.9L685.2 1040.6L656.6 1058.4Z" fill="#000" stroke="#000" stroke-width="3" stroke-linejoin="round"/>
<text class="b" x="1215.1" y="116.8" font-size="48" letter-spacing="1.2">(c)</text>
<text class="s" transform="translate(1303.2 127.8) scale(1.09 1)" font-size="50">Γ</text>
<text class="r" x="1332.5" y="147.7" font-size="29">e,R</text>
<text class="b" x="1388.6" y="127.8" font-size="48">= 9 meV</text>
<text class="b" x="1208.5" y="772.8" font-size="48" letter-spacing="1.2">(d)</text>
<text class="s" transform="translate(1324.5 791.2) scale(1.09 1)" font-size="50">Γ</text>
<text class="r" x="1353.1" y="810.7" font-size="29">e,R</text>
<text class="b" x="1409.5" y="791.2" font-size="48">= 12 meV</text>
<text class="b" x="467.5" y="1421.5" font-size="74">V</text>
<text class="b" x="517.5" y="1449.8" font-size="43">bias</text>
<text class="b" x="604.5" y="1421.5" font-size="74">(mV)</text>
<text class="b" x="1388.9" y="1415.8" font-size="74">V</text>
<text class="b" x="1438.2" y="1445.3" font-size="43">bias</text>
<text class="b" x="1525.7" y="1415.8" font-size="74">(mV)</text>
<text class="b" font-size="74" transform="translate(95.3 400.0) rotate(-90)">CF</text>
<text class="b" font-size="74" transform="translate(86.2 1045.2) rotate(-90)">CF</text>
</svg>
</body></html>
